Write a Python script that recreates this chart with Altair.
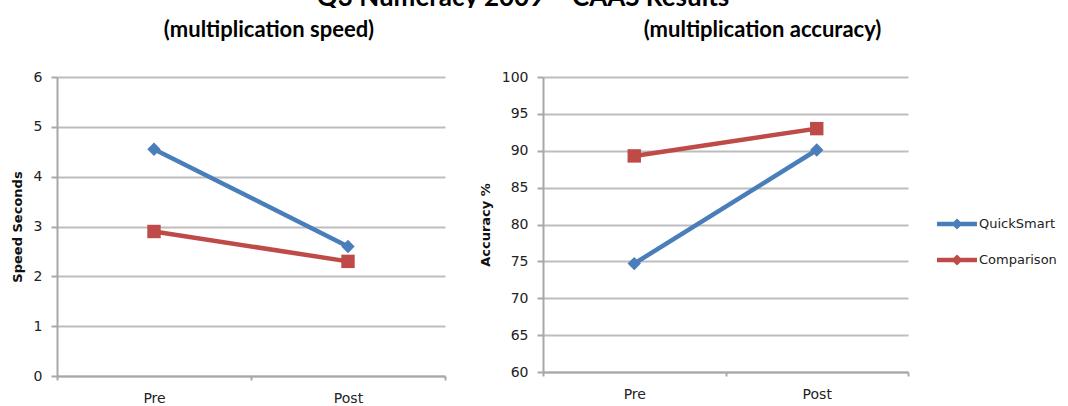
import altair as alt
import pandas as pd

# Series values per test stage
stages = ["Pre", "Post"]
groups = ["QuickSmart", "Comparison"]
speed_quicksmart = [4.55, 2.6]
speed_comparison = [2.9, 2.3]
accuracy_quicksmart = [74.7, 90.1]
accuracy_comparison = [89.3, 93.0]

speed_ticks = [0, 1, 2, 3, 4, 5, 6]
accuracy_ticks = [60, 65, 70, 75, 80, 85, 90, 95, 100]

series_colors = ["#4a7ebb", "#be4b48"]
series_shapes = ["diamond", "square"]

main_title = "Q3 Numeracy 2009 \u2013 CAAS Results"
speed_subtitle = "(multiplication speed)"
accuracy_subtitle = "(multiplication accuracy)"

LABEL_FONT = "DejaVu Sans"
TITLE_FONT = "Lato"
GRID = "#bdbdbd"
AXIS = "#a8a8a8"

# legend glyph: a stroked line with a small marker in the middle
legend_symbol = "M-1.08,0H1.08 M0,-0.13L0.13,0L0,0.13L-0.13,0Z"


def frame(quick, comp):
    return pd.DataFrame({
        "Stage": stages * 2,
        "Group": [groups[0]] * len(stages) + [groups[1]] * len(stages),
        "Value": quick + comp,
    })


def panel(df, ticks, ytitle, subtitle, w, h, sub_dx):
    x = alt.X(
        "Stage:N", sort=stages,
        scale=alt.Scale(type="band", paddingInner=0, paddingOuter=0),
        axis=alt.Axis(
            title=None, labelAngle=0, grid=False, tickBand="extent",
            ticks=True, tickSize=4, tickWidth=2, tickColor=AXIS,
            domainColor=AXIS, domainWidth=2,
            labelFont=LABEL_FONT, labelFontSize=14, labelColor="#222222",
            labelPadding=11,
        ),
    )
    y = alt.Y(
        "Value:Q",
        scale=alt.Scale(domain=[ticks[0], ticks[-1]], nice=False, zero=False),
        axis=alt.Axis(
            values=ticks, title=ytitle, grid=True, gridColor=GRID, gridWidth=2,
            domainColor=AXIS, domainWidth=2, tickSize=6, tickWidth=2, tickColor=AXIS,
            labelFont=LABEL_FONT, labelFontSize=14, labelColor="#222222", labelPadding=9,
            titleFont=LABEL_FONT, titleFontSize=13, titleFontWeight="bold",
            titleColor="#111111", titlePadding=9,
        ),
    )
    legend = alt.Legend(
        title=None, orient="none", legendX=879, legendY=203,
        symbolType=legend_symbol, symbolSize=1369, symbolStrokeWidth=4.5,
        labelFont=LABEL_FONT, labelFontSize=13, labelColor="#222222",
        labelOffset=1, rowPadding=3,
    )
    line = alt.Chart(df).mark_line(strokeWidth=4.5).encode(
        x=x, y=y,
        color=alt.Color("Group:N", sort=groups,
                        scale=alt.Scale(domain=groups, range=series_colors),
                        legend=legend),
    )
    layers = [line]
    for g, shp in zip(groups, series_shapes):
        layers.append(
            alt.Chart(df).transform_filter(alt.datum.Group == g)
            .mark_point(filled=True, opacity=1, size=180, shape=shp)
            .encode(
                x=x, y=y,
                color=alt.Color("Group:N", sort=groups,
                                scale=alt.Scale(domain=groups, range=series_colors),
                                legend=None),
            )
        )
    return alt.layer(*layers).properties(
        width=w, height=h,
        title=alt.TitleParams(
            subtitle, font=TITLE_FONT, fontSize=22, fontWeight="bold",
            color="#000000", anchor="middle", offset=28, dx=sub_dx,
        ),
    )


speed = panel(frame(speed_quicksmart, speed_comparison), speed_ticks,
              "Speed Seconds", speed_subtitle, 388, 299, 18)
accuracy = panel(frame(accuracy_quicksmart, accuracy_comparison), accuracy_ticks,
                 "Accuracy %", accuracy_subtitle, 365, 295, 37)

# strip holding the main heading, clipped at its top edge
heading = alt.Chart(pd.DataFrame({"t": [main_title]})).mark_text(
    clip=True, font=TITLE_FONT, fontSize=26, fontWeight="bold",
    baseline="alphabetic", align="center", color="#000000",
).encode(text="t:N", x=alt.value(466), y=alt.value(6)).properties(width=1000, height=8)

panels = alt.hconcat(speed, accuracy, spacing=33)

chart = alt.vconcat(heading, panels, spacing=11).properties(
    padding={"left": 11, "top": 0, "right": 0, "bottom": 0},
    background="white",
).configure_view(stroke=None)

chart.save("out.html", embed_options={"renderer": "svg", "actions": False})
